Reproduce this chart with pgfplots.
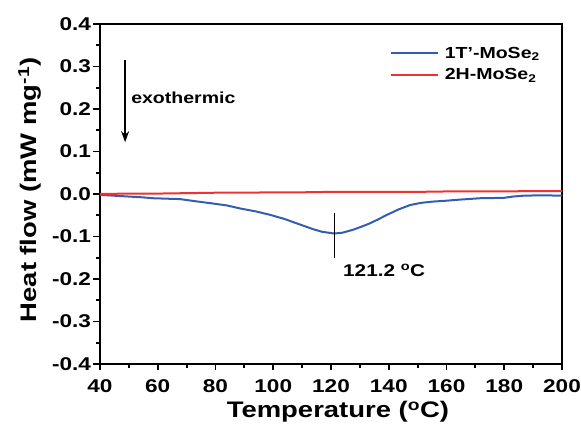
\documentclass[border=0pt]{standalone}
\usepackage{fontspec}
\setmainfont{Liberation Sans}[FakeStretch=1.22]
\usepackage{pgfplots}
\pgfplotsset{compat=1.18}
\usetikzlibrary{arrows.meta}
\definecolor{cblue}{RGB}{52,93,178}
\definecolor{cred}{RGB}{238,50,50}
\begin{document}
\begin{tikzpicture}[x=1pt,y=1pt]
\useasboundingbox (-100,-61) rectangle (481,364);
\begin{axis}[
  at={(0,0)}, anchor=south west,
  scale only axis, width=462pt, height=340pt,
  xmin=40, xmax=200, ymin=-0.4, ymax=0.4,
  xtick={40,60,...,200}, ytick={-0.4,-0.3,...,0.4},
  minor x tick num=1, minor y tick num=1,
  xtick pos=bottom, ytick pos=left,
  tick align=outside,
  major tick length=6.5pt, minor tick length=4pt,
  tick style={black, line width=1.8pt},
  axis line style={line width=2pt},
  /pgf/number format/assume math mode=true,
  yticklabel style={/pgf/number format/fixed, /pgf/number format/fixed zerofill, /pgf/number format/precision=1, xshift=1pt},
  xticklabel style={yshift=-6pt},
  tick label style={font=\fontsize{18.5}{18}\selectfont\bfseries},
  xlabel={Temperature (\textsuperscript{o}C)},
  ylabel={Heat flow (mW mg\textsuperscript{-1})},
  label style={font=\fontsize{22.5}{22}\selectfont\bfseries},
  xlabel style={at={(axis description cs:0.515,-0.141)}, anchor=center},
  ylabel style={at={(axis description cs:-0.152,0.512)}, anchor=center},
  legend style={draw=none, fill=none, at={(axis description cs:0.62,0.945)}, anchor=north west, font=\fontsize{16}{18}\selectfont\bfseries, row sep=5pt, column sep=4pt},
  legend cell align=left,
  legend image code/.code={\draw[#1, line width=2.2pt] (0pt,0pt) -- (47pt,0pt);},
]
\addplot[cblue, line width=2pt] coordinates {
(40,-0.002) (45,-0.004) (50,-0.006) (55,-0.008) (58.5,-0.010) (63,-0.011) (67.7,-0.012) (73,-0.017) (78.7,-0.022) (84,-0.027) (88.5,-0.034) (94,-0.041) (98.9,-0.049) (104,-0.059) (108.1,-0.069) (111,-0.076) (113.9,-0.083) (117,-0.089) (121.2,-0.093) (124,-0.091) (127.7,-0.084) (130.5,-0.077) (133.5,-0.069) (136.5,-0.059) (139.4,-0.049) (143.5,-0.036) (147.4,-0.026) (151,-0.021) (155,-0.018) (159.5,-0.016) (165,-0.013) (171.6,-0.010) (179.9,-0.009) (183,-0.006) (186.6,-0.004) (193,-0.003) (200,-0.004)
};
\addlegendentry{1T'-MoSe\textsubscript{2}}
\addplot[cred, line width=2pt] coordinates {
(40,0.000) (50,0.001) (60,0.001) (70,0.002) (80,0.003) (90,0.003) (100,0.004) (110,0.004) (120,0.005) (130,0.005) (140,0.005) (150,0.005) (160,0.006) (170,0.006) (180,0.006) (190,0.007) (200,0.007)
};
\addlegendentry{2H-MoSe\textsubscript{2}}
\draw[line width=1.8pt] (axis cs:121.2,-0.044) -- (axis cs:121.2,-0.151);
\node[anchor=west, font=\fontsize{17}{17}\selectfont\bfseries] at (axis cs:123,-0.179) {121.2 \textsuperscript{o}C};
\draw[line width=1.8pt, -{Stealth[length=11pt,width=8pt]}] (axis cs:48.7,0.315) -- (axis cs:48.7,0.122);
\node[anchor=west, font=\fontsize{16}{16}\selectfont\bfseries] at (axis cs:49.6,0.226) {exothermic};
\end{axis}
\end{tikzpicture}
\end{document}
